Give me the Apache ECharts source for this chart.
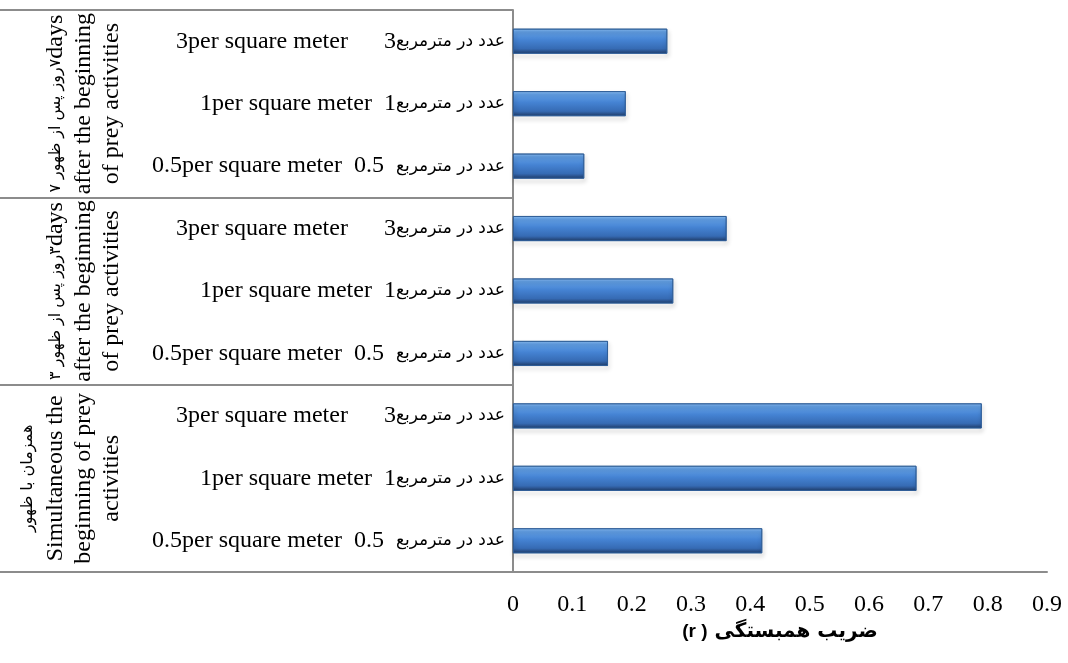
<!DOCTYPE html>
<html>
<head>
<meta charset="utf-8">
<script src="https://cdn.jsdelivr.net/npm/echarts@6/dist/echarts.min.js"></script>
<style>
html,body{margin:0;padding:0;background:#fff;}
#c{width:1068px;height:663px;}
</style>
</head>
<body>
<div id="c"></div>
<script>
// ---- data ----
const groups = ['d7', 'd3', 'd0'];
const groupLabels = [
  '{fa|۷ }{fa|روز پس از ظهور}{fa|۷}{en|days}\n{en|after the beginning}\n{en|of prey activities}',
  '{fa|۳ }{fa|روز پس از ظهور}{fa|۳}{en|days}\n{en|after the beginning}\n{en|of prey activities}',
  '{fa|همزمان با ظهور}\n{en|Simultaneous the}\n{en|beginning of prey}\n{en|activities}'
];
const densityEn = ['3per square meter      3', '1per square meter  1', '0.5per square meter  0.5  '];
const densityFa = 'عدد در مترمربع';
const categories = ['d7-3', 'd7-1', 'd7-0.5', 'd3-3', 'd3-1', 'd3-0.5', 'd0-3', 'd0-1', 'd0-0.5'];
const categoryDensity = [0, 1, 2, 0, 1, 2, 0, 1, 2];
const values = [0.26, 0.19, 0.12, 0.36, 0.27, 0.16, 0.79, 0.68, 0.42];
const xTicks = { min: 0, max: 0.9, interval: 0.1 };
const axisTitle = '{p|(r )}{fa| ضریب همبستگی}';

const SERIF = '"Liberation Serif", "Times New Roman", serif';
const ARAB = '"DejaVu Sans", sans-serif';
const GRAY = '#8c8c8c';

const chart = echarts.init(document.getElementById('c'));

const barColor = new echarts.graphic.LinearGradient(0, 0, 0, 1, [
  { offset: 0, color: '#8fc0f4' },
  { offset: 0.12, color: '#64a2e8' },
  { offset: 0.45, color: '#4583d3' },
  { offset: 0.8, color: '#366bb4' },
  { offset: 1, color: '#203c68' }
]);

chart.setOption({
  animation: false,
  backgroundColor: '#fff',
  grid: [
    { left: 513, right: 21, top: 10, bottom: 91 },
    { left: 0, width: 513, top: 10, bottom: 91 }
  ],
  xAxis: [
    {
      type: 'value', gridIndex: 0,
      min: xTicks.min, max: xTicks.max, interval: xTicks.interval,
      axisLine: { show: true, lineStyle: { color: GRAY, width: 2 } },
      axisTick: { show: false },
      splitLine: { show: false },
      axisLabel: {
        margin: 21, color: '#000', fontFamily: SERIF, fontSize: 24,
        formatter: v => String(Math.round(v * 10) / 10)
      },
      name: axisTitle,
      nameLocation: 'middle',
      nameGap: 49,
      nameTextStyle: {
        rich: {
          p: { fontFamily: '"Liberation Sans", Arial, sans-serif', fontWeight: 'bold', fontSize: 19, color: '#000' },
          fa: { fontFamily: ARAB, fontWeight: 'bold', fontSize: 20, color: '#000' }
        }
      }
    },
    { type: 'value', gridIndex: 1, show: false, min: 0, max: 1 }
  ],
  yAxis: [
    {
      type: 'category', gridIndex: 0, data: categories, inverse: true,
      axisLine: { show: true, lineStyle: { color: GRAY, width: 2 } },
      axisTick: { show: false },
      splitLine: { show: false },
      axisLabel: {
        margin: 8,
        formatter: (v, i) => '{en|' + densityEn[categoryDensity[i]] + '}{fa|' + densityFa + '}',
        rich: {
          en: { fontFamily: SERIF, fontSize: 24, color: '#000' },
          fa: { fontFamily: ARAB, fontSize: 17, color: '#000' }
        }
      }
    },
    {
      type: 'category', gridIndex: 1, data: groups, inverse: true,
      axisLine: { show: false }, axisTick: { show: false }, axisLabel: { show: false },
      splitLine: { show: true, lineStyle: { color: GRAY, width: 2 } }
    }
  ],
  series: [{
    type: 'bar',
    xAxisIndex: 0, yAxisIndex: 0,
    data: values,
    barWidth: 25,
    itemStyle: {
      color: barColor,
      borderColor: '#2b5a96',
      borderWidth: 0.8,
      shadowColor: 'rgba(0,0,0,0.35)',
      shadowBlur: 4,
      shadowOffsetX: 1,
      shadowOffsetY: 3
    }
  }]
});

// group labels placed at the centre of each group's categories
const graphics = groups.map((g, gi) => {
  const ys = categories
    .map((c, i) => ({ c, i }))
    .filter(o => o.c.startsWith(g + '-'))
    .map(o => chart.convertToPixel({ yAxisIndex: 0 }, o.c));
  const cy = ys.reduce((a, b) => a + b, 0) / ys.length;
  return {
    type: 'text',
    x: 126, y: cy,
    rotation: Math.PI / 2,
    style: {
      text: groupLabels[gi],
      align: 'center',
      verticalAlign: 'bottom',
      lineHeight: 28,
      rich: {
        en: { fontFamily: SERIF, fontSize: 24, color: '#000', lineHeight: 28 },
        fa: { fontFamily: ARAB, fontSize: 16, color: '#000', lineHeight: 28 }
      }
    }
  };
});
chart.setOption({ graphic: graphics });
</script>
</body>
</html>
